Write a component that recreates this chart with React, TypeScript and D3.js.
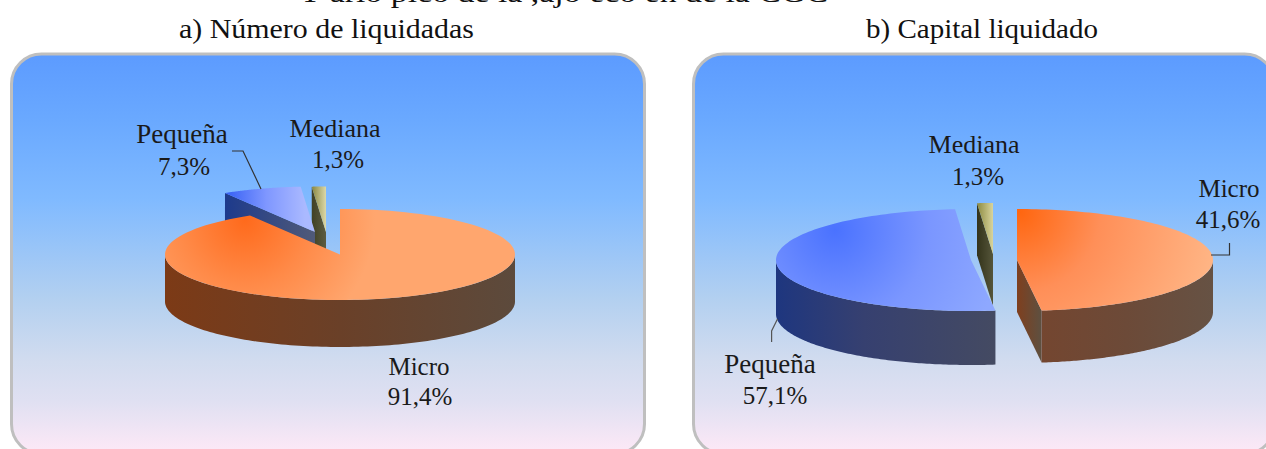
import React from 'react';
import * as d3 from 'd3';

// values
const sizeNames = ['Micro', 'Pequeña', 'Mediana'];
const countShares = [91.4, 7.3, 1.3];
const countLabels = ['91,4%', '7,3%', '1,3%'];
// the wedges in panel b are not drawn to their printed labels, these are read off the drawing
const capitalShares = [48, 50.7, 1.3];
const capitalLabels = ['41,6%', '57,1%', '1,3%'];
const titles = ['a) Número de liquidadas', 'b) Capital liquidado'];
const clippedHeading = 'Y ario pico de la ,ajo eco en de la CGC';

const W = 1266;
const H = 449;
const FONT = '"Liberation Serif", serif';
const rad = (deg: number) => (deg * Math.PI) / 180;

const pie = d3.pie<number>().sort(null).value(d => d);
const outline = d3.line<[number, number]>();

type Stop = [number, string];
type Paint = { kind: 'radial'; cx: number; cy: number; r: number; stops: Stop[] }
  | { kind: 'linear'; x1: number; x2: number; y1?: number; y2?: number; stops: Stop[] };
type SliceCfg = {
  cx: number; cy: number; rx: number; ry: number; depth: number;
  cut?: 'start' | 'end';
  top: Paint; wall?: Paint; cutPaint?: Paint;
};

const countSlices: SliceCfg[] = [
  {
    cx: 340, cy: 254.5, rx: 175, ry: 45.5, depth: 47,
    top: { kind: 'radial', cx: 245, cy: 220, r: 130, stops: [[0, '#ff6a1c'], [0.5, '#ff8a48'], [1, '#ffa66e']] },
    wall: { kind: 'linear', x1: 165, x2: 515, stops: [[0, '#7c3a16'], [0.5, '#6a4028'], [1, '#5c4a3c']] },
  },
  {
    cx: 315, cy: 232, rx: 175, ry: 45.5, depth: 47, cut: 'start',
    top: { kind: 'linear', x1: 228, x2: 305, stops: [[0, '#3a63f5'], [0.5, '#7f97ff'], [1, '#aab9ff']] },
    cutPaint: { kind: 'linear', x1: 225, x2: 315, stops: [[0, '#1d3a8c'], [1, '#505a78']] },
  },
  {
    cx: 326, cy: 232, rx: 175, ry: 45.5, depth: 47, cut: 'start',
    top: { kind: 'linear', x1: 311, x2: 326, stops: [[0, '#85823c'], [1, '#dcd8a8']] },
    cutPaint: { kind: 'linear', x1: 311, x2: 326, stops: [[0, '#3f3f22'], [1, '#5c5c42']] },
  },
];

const capitalSlices: SliceCfg[] = [
  {
    cx: 1017, cy: 260, rx: 196, ry: 51, depth: 52, cut: 'end',
    top: { kind: 'radial', cx: 1020, cy: 212, r: 200, stops: [[0, '#ff6610'], [0.4, '#ff8f58'], [1, '#ffb585']] },
    wall: { kind: 'linear', x1: 1041, x2: 1213, stops: [[0, '#744630'], [0.5, '#6c4a38'], [1, '#665244']] },
    cutPaint: { kind: 'linear', x1: 1017, x2: 1041, stops: [[0, '#7f3f1e'], [1, '#5e5040']] },
  },
  {
    cx: 971, cy: 260, rx: 195, ry: 51, depth: 54,
    top: { kind: 'radial', cx: 835, cy: 230, r: 170, stops: [[0, '#4a72ff'], [0.55, '#7a96ff'], [1, '#8ea8ff']] },
    wall: { kind: 'linear', x1: 776, x2: 995, stops: [[0, '#1e367f'], [0.4, '#364070'], [1, '#444a62']] },
  },
  {
    cx: 993, cy: 254, rx: 196, ry: 51, depth: 52, cut: 'start',
    top: { kind: 'linear', x1: 977, x2: 993, stops: [[0, '#8c8a40'], [1, '#d8d49c']] },
    cutPaint: { kind: 'linear', x1: 977, x2: 993, stops: [[0, '#33331a'], [1, '#55553a']] },
  },
];

function PaintDef({ id, p }: { id: string; p: Paint }) {
  const stops = p.stops.map(([o, c]) => <stop key={o} offset={o} stopColor={c} />);
  if (p.kind === 'radial') {
    return <radialGradient id={id} gradientUnits="userSpaceOnUse" cx={p.cx} cy={p.cy} r={p.r}>{stops}</radialGradient>;
  }
  return (
    <linearGradient id={id} gradientUnits="userSpaceOnUse" x1={p.x1} x2={p.x2} y1={p.y1 ?? 0} y2={p.y2 ?? 0}>
      {stops}
    </linearGradient>
  );
}

function PieChart({ name, shares, slices }: { name: string; shares: number[]; slices: SliceCfg[] }) {
  const arcs = pie(shares);
  // back to front, so the big slice sits on top
  const order = d3.range(arcs.length).reverse();
  return (
    <g>
      <defs>
        {slices.map((s, i) => (
          <React.Fragment key={i}>
            <PaintDef id={`${name}-top-${i}`} p={s.top} />
            {s.wall && <PaintDef id={`${name}-wall-${i}`} p={s.wall} />}
            {s.cutPaint && <PaintDef id={`${name}-cut-${i}`} p={s.cutPaint} />}
          </React.Fragment>
        ))}
      </defs>
      {order.map(i => {
        const s = slices[i];
        const a = arcs[i];
        const pt = (t: number, dy = 0): [number, number] =>
          [s.cx + s.rx * Math.sin(t), s.cy - s.ry * Math.cos(t) + dy];
        const sweep = (t0: number, t1: number, dy = 0) =>
          d3.range(0, 121).map(k => pt(t0 + ((t1 - t0) * k) / 120, dy));

        const topPath = outline([[s.cx, s.cy], ...sweep(a.startAngle, a.endAngle)]) + 'Z';

        const w0 = Math.max(a.startAngle, rad(90));
        const w1 = Math.min(a.endAngle, rad(270));
        const wallPath = w1 > w0
          ? outline([...sweep(w0, w1), ...sweep(w1, w0, s.depth)]) + 'Z'
          : null;

        let cutPath: string | null = null;
        if (s.cut) {
          const rim = pt(s.cut === 'start' ? a.startAngle : a.endAngle);
          cutPath = outline([
            rim, [s.cx, s.cy], [s.cx, s.cy + s.depth], [rim[0], rim[1] + s.depth],
          ]) + 'Z';
        }
        return (
          <g key={i}>
            {cutPath && <path d={cutPath} fill={`url(#${name}-cut-${i})`} />}
            {wallPath && <path d={wallPath} fill={`url(#${name}-wall-${i})`} />}
            <path d={topPath} fill={`url(#${name}-top-${i})`} />
          </g>
        );
      })}
    </g>
  );
}

function Label({ x, y, size = 25, children }: { x: number; y: number; size?: number; children: string }) {
  return (
    <text x={x} y={y} textAnchor="middle" fontFamily={FONT} fontSize={size} fill="#1a1a1a">
      {children}
    </text>
  );
}

function Heading({ x, y, length, children }: { x: number; y: number; length: number; children: string }) {
  return (
    <text x={x} y={y} fontFamily={FONT} fontSize={28} fill="#111" textLength={length} lengthAdjust="spacingAndGlyphs">
      {children}
    </text>
  );
}

const panelStops: Stop[] = [
  [0, '#5c9bff'], [0.17, '#6aa9ff'], [0.37, '#80baff'], [0.62, '#b3d0f0'],
  [0.78, '#d2dcef'], [0.88, '#e0e0f2'], [1, '#fbe8f6'],
];

export default function App() {
  return (
    <svg width={W} height={H} viewBox={`0 0 ${W} ${H}`}
      style={{ position: 'absolute', left: 0, top: 0, display: 'block', background: '#fff' }}>
      <defs>
        <linearGradient id="panelBg" gradientUnits="userSpaceOnUse" x1={0} x2={0} y1={54} y2={449}>
          {panelStops.map(([o, c]) => <stop key={o} offset={o} stopColor={c} />)}
        </linearGradient>
      </defs>

      <Heading x={298} y={2} length={530}>{clippedHeading}</Heading>
      <Heading x={179} y={38} length={295}>{titles[0]}</Heading>
      <Heading x={866} y={38} length={232}>{titles[1]}</Heading>

      <rect x={11.5} y={54} width={633} height={400} rx={30} fill="url(#panelBg)" stroke="#bfbfbf" strokeWidth={3} />
      <rect x={693.5} y={54} width={581} height={400} rx={30} fill="url(#panelBg)" stroke="#bfbfbf" strokeWidth={3} />

      <PieChart name="count" shares={countShares} slices={countSlices} />
      <PieChart name="capital" shares={capitalShares} slices={capitalSlices} />

      <g fill="none" stroke="#333" strokeWidth={1.2}>
        <path d="M232,151 H243 L261,189" />
        <path d="M1211,255 H1229.5 V243" />
        <path d="M777.5,319 L771.6,331 V342" stroke="#555" />
      </g>

      <Label x={419} y={375}>{sizeNames[0]}</Label>
      <Label x={420} y={405}>{countLabels[0]}</Label>
      <Label x={182} y={143} size={27}>{sizeNames[1]}</Label>
      <Label x={184} y={175}>{countLabels[1]}</Label>
      <Label x={335} y={137} size={26}>{sizeNames[2]}</Label>
      <Label x={338} y={168}>{countLabels[2]}</Label>

      <Label x={1229} y={197}>{sizeNames[0]}</Label>
      <Label x={1228} y={228}>{capitalLabels[0]}</Label>
      <Label x={770} y={373} size={27}>{sizeNames[1]}</Label>
      <Label x={775} y={404}>{capitalLabels[1]}</Label>
      <Label x={974} y={153} size={26}>{sizeNames[2]}</Label>
      <Label x={978} y={185}>{capitalLabels[2]}</Label>
    </svg>
  );
}
